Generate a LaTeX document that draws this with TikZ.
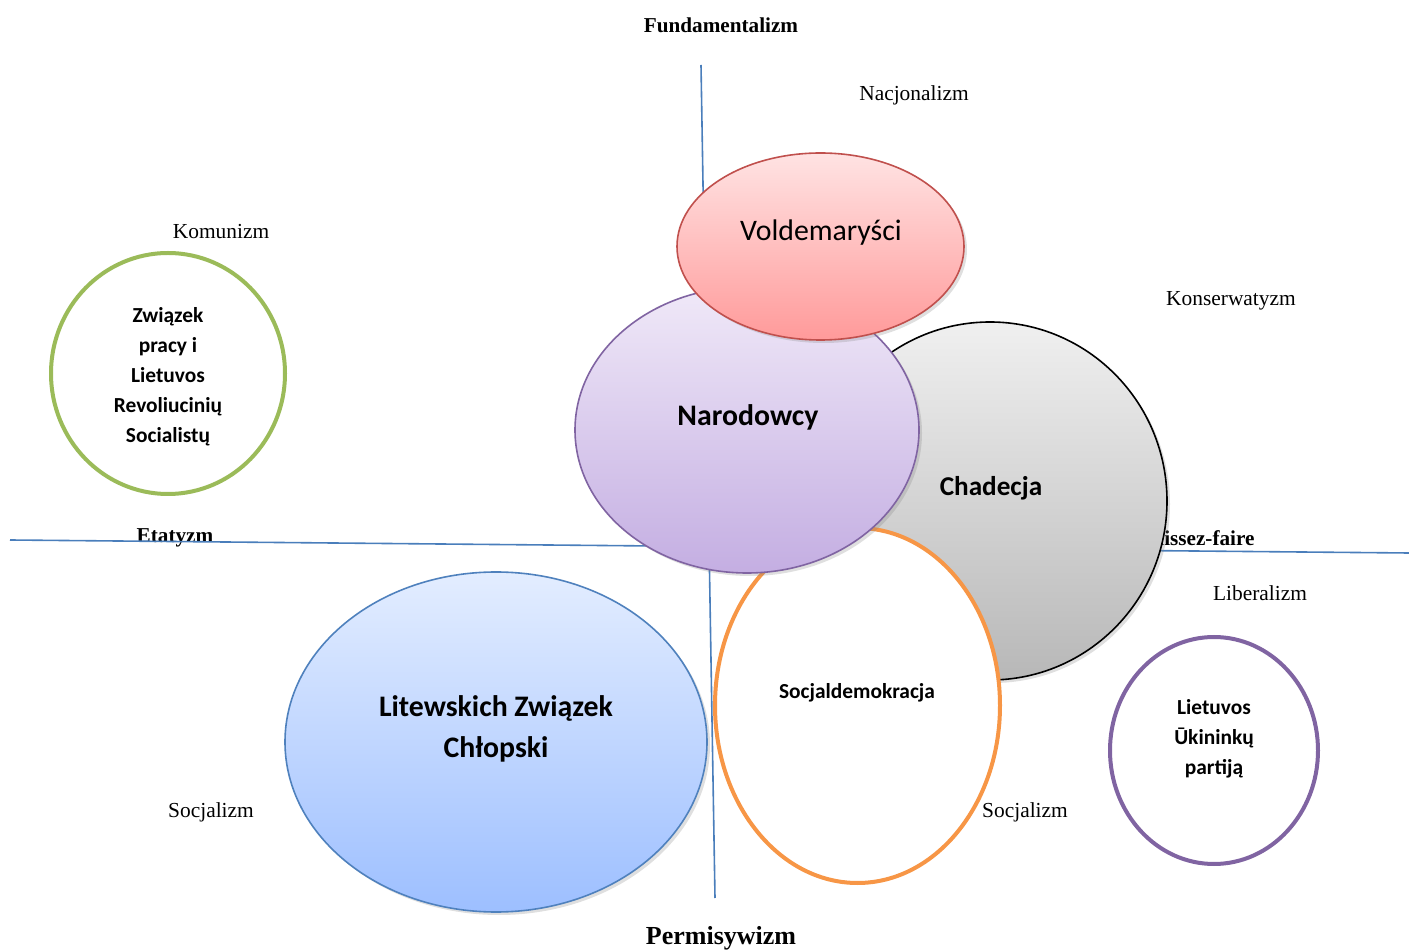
\documentclass[tikz,border=0pt]{standalone}
\usepackage{fontspec}
\setmainfont{Liberation Serif}
\newfontfamily\calibri{Carlito}
\usetikzlibrary{shapes.geometric,shadows}
\definecolor{axisblue}{HTML}{4A7EBB}
\definecolor{voldred}{HTML}{C0504D}
\definecolor{narodviolet}{HTML}{8064A2}
\definecolor{socorange}{HTML}{F79646}
\definecolor{ruralblue}{HTML}{4F81BD}
\definecolor{leftgreen}{HTML}{9BBB59}
\definecolor{ruraltop}{HTML}{E3EDFF}
\definecolor{ruralbottom}{HTML}{9DBFFF}
\definecolor{narodtop}{HTML}{F0E9F8}
\definecolor{narodbottom}{HTML}{C4AEE2}
\definecolor{voldtop}{HTML}{FFE3E3}
\definecolor{voldbottom}{HTML}{FF9A9A}
\tikzset{party/.style = {draw, ellipse, inner sep=0pt}}
\tikzset{softshadow/.style = {drop shadow={shadow xshift=1.5pt, shadow yshift=-1.5pt, opacity=0.25}}}
\tikzset{partytext/.style = {font=\calibri\bfseries\fontsize{14.9}{20.5}\selectfont, align=center}}
\tikzset{smalltext/.style = {font=\calibri\bfseries\fontsize{10.7}{15}\selectfont, align=center}}
\tikzset{axislabel/.style = {font=\bfseries\fontsize{10.6}{13}\selectfont}}
\tikzset{ideology/.style = {font=\fontsize{10.7}{13}\selectfont}}
\tikzset{axis/.style = {draw=axisblue, line width=0.8pt}}

\begin{document}
\begin{tikzpicture}[x=0.5pt, y=-0.5pt]
\useasboundingbox (0,0) rectangle (1409,951);

% labels round the axes
\node[axislabel] (fund) at (721,25) {Fundamentalizm};
\node[axislabel, font=\bfseries\fontsize{13}{15}\selectfont] (perm) at (721,938) {Permisywizm};
\node[axislabel] (etat) at (175,538) {Etatyzm};
\node[axislabel] (laissez) at (1197,538) {Laissez-faire};

\node[ideology] (nacj) at (914,95) {Nacjonalizm};
\node[ideology] (komun) at (221,232) {Komunizm};
\node[ideology] (konserw) at (1231,301) {Konserwatyzm};
\node[ideology] (liberal) at (1260,593) {Liberalizm};
\node[ideology] (socjal1) at (211,812) {Socjalizm};
\node[ideology] (socjal2) at (1025,812) {Socjalizm};

% axes
\coordinate (vtop) at (701,65);
\coordinate (vbot) at (715,898);
\coordinate (hleft) at (10,540);
\coordinate (hright) at (1409,553);
\path[axis] (vtop) -- (vbot);
\path[axis] (hleft) -- (hright);

% parties
\node[party, softshadow, draw=black, line width=0.8pt, top color=black!6, bottom color=black!28,
  minimum width=177pt, minimum height=179pt] (chad) at (990,501) {};
\node[partytext, font=\calibri\bfseries\fontsize{13.6}{18}\selectfont] (chad-t) at (991,488) {Chadecja};

\node[party, draw=socorange, line width=2pt, fill=white,
  minimum width=142.5pt, minimum height=177.5pt] (socdem) at (857.5,705.5) {};
\node[smalltext] (socdem-t) at (857,693) {Socjaldemokracja};

\node[party, softshadow, draw=narodviolet, line width=0.8pt, top color=narodtop, bottom color=narodbottom,
  minimum width=172pt, minimum height=143pt] (narod) at (747,430) {};
\node[partytext] (narod-t) at (748,417) {Narodowcy};

\node[party, softshadow, draw=voldred, line width=0.8pt, top color=voldtop, bottom color=voldbottom,
  minimum width=143.5pt, minimum height=93.5pt] (vold) at (820.5,246.5) {};
\node[partytext, font=\calibri\fontsize{14.9}{18}\selectfont] (vold-t) at (821,233) {Voldemaryści};

\node[party, softshadow, draw=ruralblue, line width=0.8pt, top color=ruraltop, bottom color=ruralbottom,
  minimum width=211pt, minimum height=170pt] (chlop) at (496,742) {};
\node[partytext] (chlop-t) at (496,729) {Litewskich Związek\\Chłopski};

\node[party, draw=leftgreen, line width=2pt, fill=white,
  minimum width=117pt, minimum height=120.5pt] (zwiazek) at (168,373.5) {};
\node[smalltext] (zwiazek-t) at (168,377) {Związek\\pracy i\\Lietuvos\\Revoliucinių\\Socialistų};

\node[party, draw=narodviolet, line width=2pt, fill=white,
  minimum width=104pt, minimum height=113.5pt] (ukin) at (1214,750.5) {};
\node[smalltext] (ukin-t) at (1214,739) {Lietuvos\\Ūkininkų\\partiją};
\end{tikzpicture}
\end{document}
